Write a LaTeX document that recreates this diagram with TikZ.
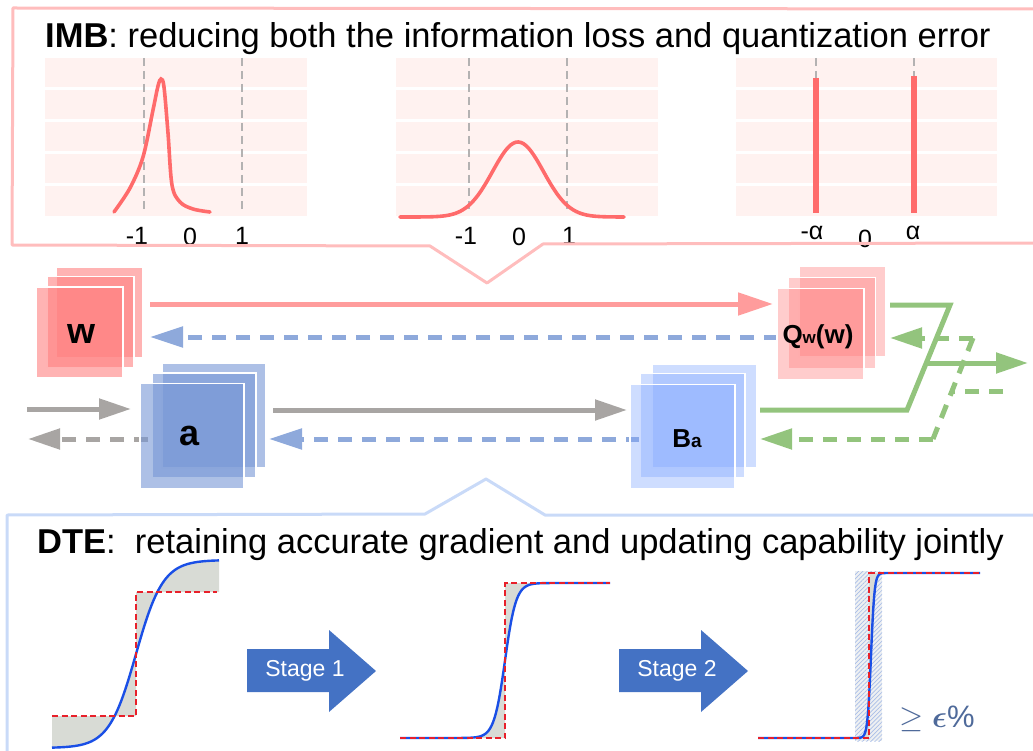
\documentclass[tikz,border=0pt]{standalone}
\usepackage{fix-cm}
\usepackage{fontspec}
\setmainfont{Liberation Sans}
\usepackage{amsmath}
\usepackage{bm}
\usetikzlibrary{arrows.meta,patterns.meta}
\definecolor{pinkedge}{HTML}{FFBDBD}
\definecolor{blueedge}{HTML}{C9DAF8}
\definecolor{plotbg}{HTML}{FFF2F0}
\definecolor{curvered}{HTML}{FF6B6B}
\definecolor{gridgray}{HTML}{B4B2B2}
\definecolor{wred}{HTML}{FF8080}
\definecolor{ablue}{HTML}{7696D5}
\definecolor{bblue}{HTML}{7FA5FF}
\definecolor{redarrow}{HTML}{FF9C9C}
\definecolor{bluearrow}{HTML}{8EA9DB}
\definecolor{grayarrow}{HTML}{A8A5A3}
\definecolor{greenarrow}{HTML}{93C47D}
\definecolor{stageblue}{HTML}{4472C4}
\definecolor{stepred}{HTML}{E8202A}
\definecolor{sigblue}{HTML}{1A4FE6}
\definecolor{fillgray}{HTML}{D8DBD5}
\definecolor{hatchblue}{HTML}{A9BEE8}
\definecolor{hatchbg}{HTML}{EEF0F2}
\definecolor{epscol}{HTML}{4F6A9A}
\newcommand\setfs[1]{\fontsize{#1}{#1}\selectfont}
\begin{document}
\begin{tikzpicture}[x=1pt,y=-1pt,
  sq/.style={inner sep=0pt, draw=white, line width=1.2pt},
  wsq/.style={sq, fill=wred, fill opacity=0.6, minimum width=87pt, minimum height=91pt},
  qsq/.style={sq, fill=wred, fill opacity=0.4, minimum width=87pt, minimum height=91pt},
  asq/.style={sq, fill=ablue, fill opacity=0.6, minimum width=104pt, minimum height=105pt},
  bsq/.style={sq, fill=bblue, fill opacity=0.38, minimum width=105pt, minimum height=104pt},
  lbl/.style={inner sep=0pt, font=\bfseries},
  tick/.style={inner sep=0pt, font=\setfs{25}},
  title/.style={inner sep=0pt, anchor=base west, font=\setfs{34.5}},
  gridline/.style={gridgray, line width=2.4pt, dash pattern=on 8pt off 5pt},
  dist/.style={curvered, line width=3.6pt, line cap=round},
  conn/.style={line width=5pt},
  dsh/.style={dash pattern=on 14pt off 10pt},
  redtip/.style={-{Triangle[length=35pt,width=22pt]}},
  bluetip/.style={-{Triangle[length=33pt,width=20pt]}},
  graytip/.style={-{Triangle[length=32pt,width=20pt]}},
  greentip/.style={-{Triangle[length=32pt,width=20pt]}},
  stepline/.style={stepred, line width=2pt, dash pattern=on 6pt off 3.5pt},
  sigline/.style={sigblue, line width=2.4pt},
  stagearrow/.style={fill=stageblue},
  stagetext/.style={inner sep=0pt, text=white, font=\setfs{23}}
]
\useasboundingbox (0,0) rectangle (1033,751);

% ---------------- IMB panel ----------------
\foreach \xa/\xb in {45/307, 396/658, 736/997}{
  \foreach \ya/\yb in {58/87, 90/119, 122/151, 154/183, 186/216}{
    \fill[plotbg] (\xa,\ya) rectangle (\xb,\yb);
  }
}
\foreach \gx in {144,242,469,567,816,914}{
  \draw[gridline] (\gx,58) -- (\gx,213);
}
% plot 1
\draw[dist] plot[smooth, tension=0.55] coordinates {(114,212) (130,188) (143,157) (153,110) (158,86) (161,79) (164,87) (168,133) (172,185) (180,202) (193,209) (210,212)};
% plot 2
\draw[dist] plot[domain=400:624, samples=90] (\x,{217-75*exp(-min(((\x-518)/36)^2,12))});
% plot 3
\draw[curvered, line width=6pt] (816,78) -- (816,213);
\draw[curvered, line width=6pt] (914,76) -- (914,213);

\node[tick] (t1a) at (137,236) {-1};
\node[tick] (t1b) at (190,237) {0};
\node[tick] (t1c) at (242,236) {1};
\node[tick] (t2a) at (466,236) {-1};
\node[tick] (t2b) at (519,237) {0};
\node[tick] (t2c) at (569,236) {1};
\node[tick] (t3a) at (812,233) {-α};
\node[tick] (t3b) at (865,239) {0};
\node[tick] (t3c) at (913,233) {α};

\node[title] (imb) at (45,48) {\textbf{IMB}: reducing both the information loss and quantization error};

\draw[pinkedge, line width=3pt, line join=round] (1040,9) -- (13,8) -- (12,245) -- (430,246) -- (487,283) -- (543,244) -- (1040,243);

% ---------------- connectors ----------------
\coordinate (rs) at (150,304);
\coordinate (re) at (773,304);
\coordinate (bs1) at (778,337);
\coordinate (be1) at (150,337);
\coordinate (gi0) at (27,409);
\coordinate (gi1) at (131,409);
\coordinate (go0) at (148,439);
\coordinate (go1) at (28,439);
\coordinate (ga0) at (273,410);
\coordinate (ga1) at (627,410);
\coordinate (bs2) at (640,439);
\coordinate (be2) at (269,439);
\coordinate (gb) at (760,410);
\coordinate (gk1) at (907,410);
\coordinate (gk2) at (950,305);
\coordinate (gq) at (890,305);
\coordinate (gm) at (927,363);
\coordinate (gout) at (1028,363);
\coordinate (din) at (1003,391);
\coordinate (dm) at (952,391);
\coordinate (dtop) at (973,338);
\coordinate (dbot) at (933,439);
\coordinate (dq) at (890,338);
\coordinate (db) at (760,439);

\draw[conn, redarrow, redtip] (rs) -- (re);
\draw[conn, bluearrow, dsh, bluetip] (bs1) -- (be1);
\draw[conn, grayarrow, graytip] (gi0) -- (gi1);
\draw[conn, grayarrow, dsh, graytip] (go0) -- (go1);
\draw[conn, grayarrow, graytip] (ga0) -- (ga1);
\draw[conn, bluearrow, dsh, bluetip] (bs2) -- (be2);

\draw[conn, greenarrow] (gb) -- (gk1) -- (gk2) -- (gq);
\draw[conn, greenarrow, greentip] (gm) -- (gout);
\draw[conn, greenarrow, dsh] (din) -- (dm);
\draw[conn, greenarrow, dsh] (dtop) -- (dbot);
\draw[conn, greenarrow, dsh, greentip] (dtop) -- (dq);
\draw[conn, greenarrow, dsh, greentip] (dbot) -- (db);

% ---------------- tensor stacks ----------------
\node[wsq] (w3) at (99.5,312.5) {};
\node[wsq] (w2) at (90.5,322) {};
\node[wsq] (w1) at (79.5,332.5) {};
\node[lbl, font=\bfseries\setfs{36}] (wl) at (81,334) {w};

\node[asq] (a3) at (214,415.5) {};
\node[asq] (a2) at (204,425.5) {};
\node[asq] (a1) at (192,436) {};
\node[lbl, font=\bfseries\setfs{36}] (al) at (190,436) {a};

\node[qsq] (q3) at (842.5,311.5) {};
\node[qsq] (q2) at (832,323) {};
\node[qsq] (q1) at (820.5,334) {};
\node[lbl, font=\bfseries\setfs{26}, anchor=base] (ql) at (818,343) {Q{\setfs{17}w}(w)};

\node[bsq] (b3) at (704.5,416) {};
\node[bsq] (b2) at (692.5,425.5) {};
\node[bsq] (b1) at (682.5,436.5) {};
\node[lbl, font=\bfseries\setfs{26}, anchor=base] (bl) at (687,447) {B{\setfs{19}a}};

% ---------------- DTE panel ----------------
\draw[blueedge, line width=3pt, line join=round] (7,760) -- (7,515) -- (425,514) -- (486,479) -- (545,515) -- (1040,515);
\node[title] (dte) at (37,553) {\textbf{DTE}:\ \ retaining accurate gradient and updating capability jointly};

% plot A
\fill[fillgray] (52,716) -- (136,716) -- (136,592) -- (219,592) -- (219,560)
  -- plot[domain=219:52, samples=90] (\x,{654-94*tanh(max(min((\x-136)/27,6),-6))}) -- cycle;
\draw[sigline] plot[domain=52:219, samples=90] (\x,{654-94*tanh(max(min((\x-136)/27,6),-6))});
\draw[stepline] (52,716) -- (136,716) -- (136,592) -- (217,592);

% plot B
\fill[fillgray] (400,738) -- (505,738) -- (505,583) -- (610,583)
  -- plot[domain=610:400, samples=150] (\x,{660.5-77.5*tanh(max(min((\x-505)/11,6),-6))}) -- cycle;
\draw[sigline] plot[domain=400:610, samples=150] (\x,{660.5-77.5*tanh(max(min((\x-505)/11,6),-6))});
\draw[stepline] (400,738) -- (505,738) -- (505,583) -- (610,583);

% plot C
\fill[hatchbg] (855,571) rectangle (882,741);
\fill[pattern={Lines[angle=45,distance=3pt,line width=0.7pt]}, pattern color=hatchblue] (855,571) rectangle (882,741);
\fill[fillgray] (758,738) -- (869,738) -- (869,573) -- (980,573)
  -- plot[domain=980:758, samples=400] (\x,{655.5-82.5*tanh(max(min((\x-871)/3.5,6),-6))}) -- cycle;
\draw[sigline] plot[domain=758:980, samples=400] (\x,{655.5-82.5*tanh(max(min((\x-871)/3.5,6),-6))});
\draw[stepline] (758,738) -- (869,738) -- (869,573) -- (980,573);
\node[inner sep=0pt, text=epscol, font=\setfs{31}] (eps) at (937,719) {$\geq \bm{\epsilon}\%$};

% stage arrows
\fill[stagearrow] (247,649) -- (329,649) -- (329,630) -- (376,671) -- (329,712) -- (329,692) -- (247,692) -- cycle;
\node[stagetext] (s1) at (305,671) {Stage 1};
\fill[stagearrow] (619,649) -- (701,649) -- (701,630) -- (748,671) -- (701,712) -- (701,692) -- (619,692) -- cycle;
\node[stagetext] (s2) at (677,671) {Stage 2};
\end{tikzpicture}
\end{document}
